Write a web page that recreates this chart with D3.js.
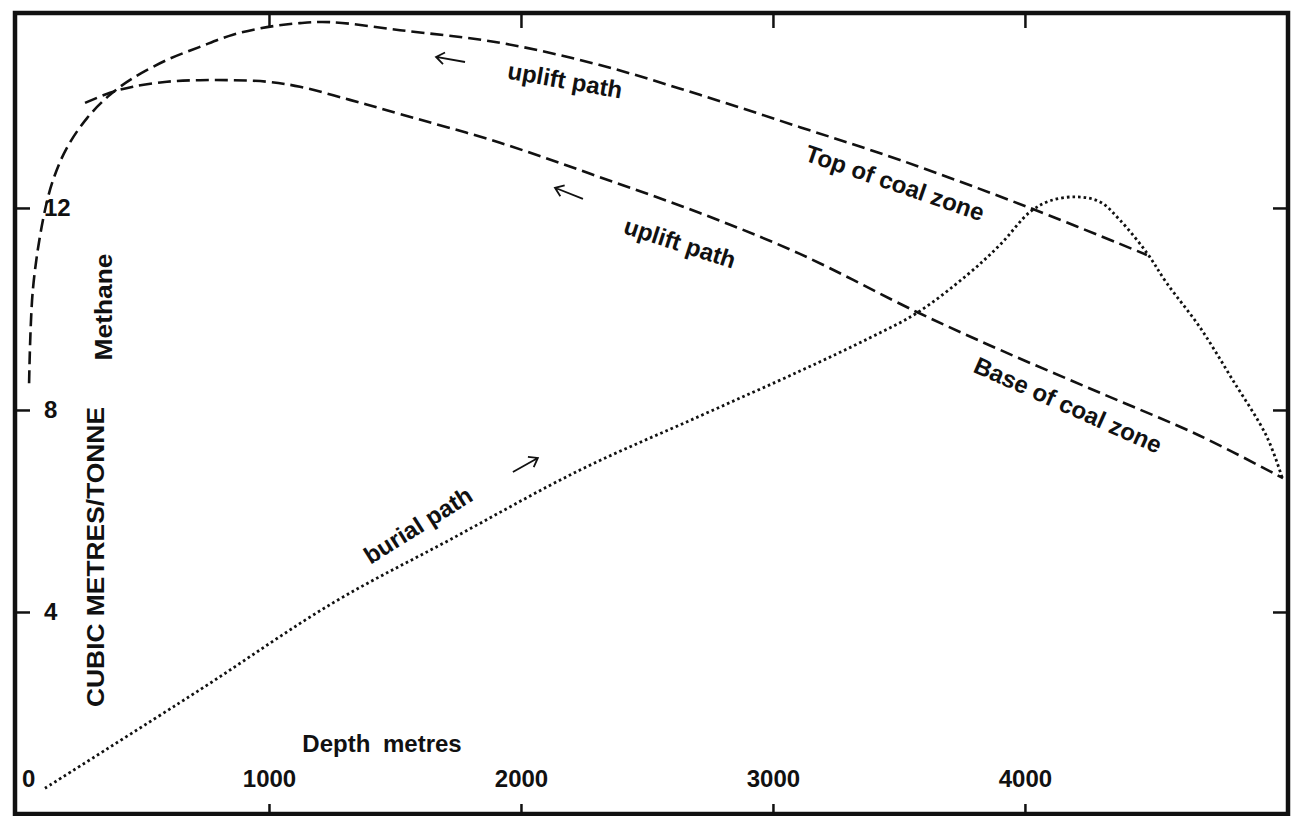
<!DOCTYPE html>
<html>
<head>
<meta charset="utf-8">
<script src="https://cdn.jsdelivr.net/npm/d3@7"></script>
<style>
  body { margin: 0; background: #fff; }
  svg text { font-family: "Liberation Sans", Arial, sans-serif; font-weight: bold; fill: #111; }
</style>
</head>
<body>
<div id="chart"></div>
<script>
// axis ticks
const depthTicks = [1000, 2000, 3000, 4000];
const methaneTicks = [0, 4, 8, 12];

// top of coal zone (uplift path)
const topDepth   = [48, 63, 103, 143, 198, 278, 369, 460, 595, 726, 857, 992, 1123, 1242, 1520, 1917, 2313, 2710, 3107, 3504, 4020, 4484];
const topMethane = [8.53, 10.38, 11.76, 12.55, 13.19, 13.78, 14.24, 14.57, 14.93, 15.19, 15.43, 15.58, 15.66, 15.68, 15.52, 15.27, 14.83, 14.24, 13.60, 12.95, 12.00, 11.07];

// base of coal zone (uplift path)
const baseDepth   = [270, 369, 460, 595, 726, 857, 992, 1123, 1321, 1520, 1917, 2313, 2710, 3107, 3571, 3901, 4298, 4694, 5024];
const baseMethane = [14.08, 14.28, 14.40, 14.50, 14.53, 14.53, 14.50, 14.40, 14.14, 13.86, 13.29, 12.61, 11.90, 11.09, 9.94, 9.19, 8.34, 7.49, 6.65];

// burial path
const burialDepth   = [111, 726, 1254, 1718, 2234, 2710, 3107, 3385, 3571, 3770, 3901, 4020, 4099, 4206, 4298, 4377, 4484, 4563, 4694, 4825, 4960, 5024];
const burialMethane = [0.51, 2.46, 4.18, 5.43, 6.81, 7.88, 8.77, 9.43, 9.92, 10.67, 11.27, 11.92, 12.14, 12.22, 12.12, 11.76, 11.11, 10.51, 9.64, 8.59, 7.47, 6.61];

// curve labels: text, depth, methane, rotation
const labelText    = ["uplift path", "uplift path", "Top of coal zone", "Base of coal zone", "burial path"];
const labelDepth   = [2175, 2631, 3484, 4171, 1591];
const labelMethane = [14.53, 11.31, 12.50, 8.10, 5.72];
const labelAngle   = [10, 18, 19, 24, -32];

// direction arrows: tail -> tip
const arrowTail = [[1778, 14.89], [2246, 12.18], [1968, 6.77]];
const arrowTip  = [[1663, 14.99], [2135, 12.40], [2067, 7.05]];

const W = 1293, H = 816;
const frame = {left: 15, top: 13, right: 1288, bottom: 814};

const svg = d3.select("#chart").append("svg")
    .attr("width", W)
    .attr("height", H);

const xScale = d3.scaleLinear().domain([0, 5044]).range([17, frame.right]);
const yScale = d3.scaleLinear().domain([0, 15.88]).range([frame.bottom, 12]);

// frame
svg.append("rect")
    .attr("x", frame.left).attr("y", frame.top)
    .attr("width", frame.right - frame.left)
    .attr("height", frame.bottom - frame.top)
    .attr("fill", "none")
    .attr("stroke", "#111")
    .attr("stroke-width", 4.5);

// bottom axis: ticks point up, labels above
const xAxisG = svg.append("g")
    .attr("transform", "translate(0," + frame.bottom + ")")
    .call(d3.axisTop(xScale).tickValues(depthTicks).tickFormat(d3.format("d"))
        .tickSizeInner(10).tickSizeOuter(0).tickPadding(17));
// top axis: ticks only
const xTopG = svg.append("g")
    .attr("transform", "translate(0," + frame.top + ")")
    .call(d3.axisBottom(xScale).tickValues(depthTicks).tickSizeInner(15).tickSizeOuter(0).tickFormat(""));
// left axis
const yAxisG = svg.append("g")
    .attr("transform", "translate(" + frame.left + ",0)")
    .call(d3.axisRight(yScale).tickValues(methaneTicks).tickSizeInner(15).tickSizeOuter(0).tickPadding(14));
// right axis: ticks only
const yRightG = svg.append("g")
    .attr("transform", "translate(" + frame.right + ",0)")
    .call(d3.axisLeft(yScale).tickValues(methaneTicks.filter(v => v > 0)).tickSizeInner(15).tickSizeOuter(0).tickFormat(""));

[xAxisG, xTopG, yAxisG, yRightG].forEach(g => {
    g.select(".domain").remove();
    g.selectAll(".tick line").attr("stroke", "#111").attr("stroke-width", 2.5);
    g.selectAll("text").attr("font-size", 24).attr("fill", "#111");
});
// the zero label sits in the corner, no tick
yAxisG.selectAll(".tick").filter(d => d === 0).select("line").remove();
yAxisG.selectAll(".tick").filter(d => d === 0).select("text")
    .attr("x", 7).attr("dy", "-1.15em");

// curves
const line = d3.line()
    .x(p => xScale(p[0]))
    .y(p => yScale(p[1]))
    .curve(d3.curveCatmullRom.alpha(0.5));

const curves = [
    {pts: d3.zip(topDepth, topMethane), dash: "13,6", width: 2.6},
    {pts: d3.zip(baseDepth, baseMethane), dash: "13,6", width: 2.6},
    {pts: d3.zip(burialDepth, burialMethane), dash: "2.6,3", width: 2.8}
];

svg.selectAll(".curve")
    .data(curves)
    .join("path")
    .attr("class", "curve")
    .attr("d", c => line(c.pts))
    .attr("fill", "none")
    .attr("stroke", "#111")
    .attr("stroke-width", c => c.width)
    .attr("stroke-dasharray", c => c.dash);

// arrows
const arrows = d3.zip(arrowTail, arrowTip);
svg.selectAll(".arrow")
    .data(arrows)
    .join("path")
    .attr("class", "arrow")
    .attr("d", a => {
        const x0 = xScale(a[0][0]), y0 = yScale(a[0][1]);
        const x1 = xScale(a[1][0]), y1 = yScale(a[1][1]);
        const ang = Math.atan2(y1 - y0, x1 - x0);
        const hl = 10, ha = Math.PI / 5;
        const hx1 = x1 - hl * Math.cos(ang - ha), hy1 = y1 - hl * Math.sin(ang - ha);
        const hx2 = x1 - hl * Math.cos(ang + ha), hy2 = y1 - hl * Math.sin(ang + ha);
        return `M${x0},${y0}L${x1},${y1}M${hx1},${hy1}L${x1},${y1}L${hx2},${hy2}`;
    })
    .attr("fill", "none")
    .attr("stroke", "#111")
    .attr("stroke-width", 1.8);

// curve labels
svg.selectAll(".curveLabel")
    .data(d3.range(labelText.length))
    .join("text")
    .attr("class", "curveLabel")
    .attr("transform", i => `translate(${xScale(labelDepth[i])},${yScale(labelMethane[i])}) rotate(${labelAngle[i]})`)
    .attr("text-anchor", "middle")
    .attr("dominant-baseline", "central")
    .attr("font-size", 24)
    .text(i => labelText[i]);

// axis titles
svg.append("text")
    .attr("x", 382).attr("y", 743)
    .attr("text-anchor", "middle")
    .attr("dominant-baseline", "central")
    .attr("font-size", 24)
    .attr("word-spacing", 6)
    .text("Depth metres");

svg.append("text")
    .attr("transform", "translate(95,557) rotate(-90)")
    .attr("text-anchor", "middle")
    .attr("dominant-baseline", "central")
    .attr("font-size", 24)
    .attr("textLength", 300)
    .attr("lengthAdjust", "spacingAndGlyphs")
    .text("CUBIC METRES/TONNE");

svg.append("text")
    .attr("transform", "translate(103,307) rotate(-90)")
    .attr("text-anchor", "middle")
    .attr("dominant-baseline", "central")
    .attr("font-size", 24)
    .attr("textLength", 107)
    .attr("lengthAdjust", "spacingAndGlyphs")
    .text("Methane");
</script>
</body>
</html>
